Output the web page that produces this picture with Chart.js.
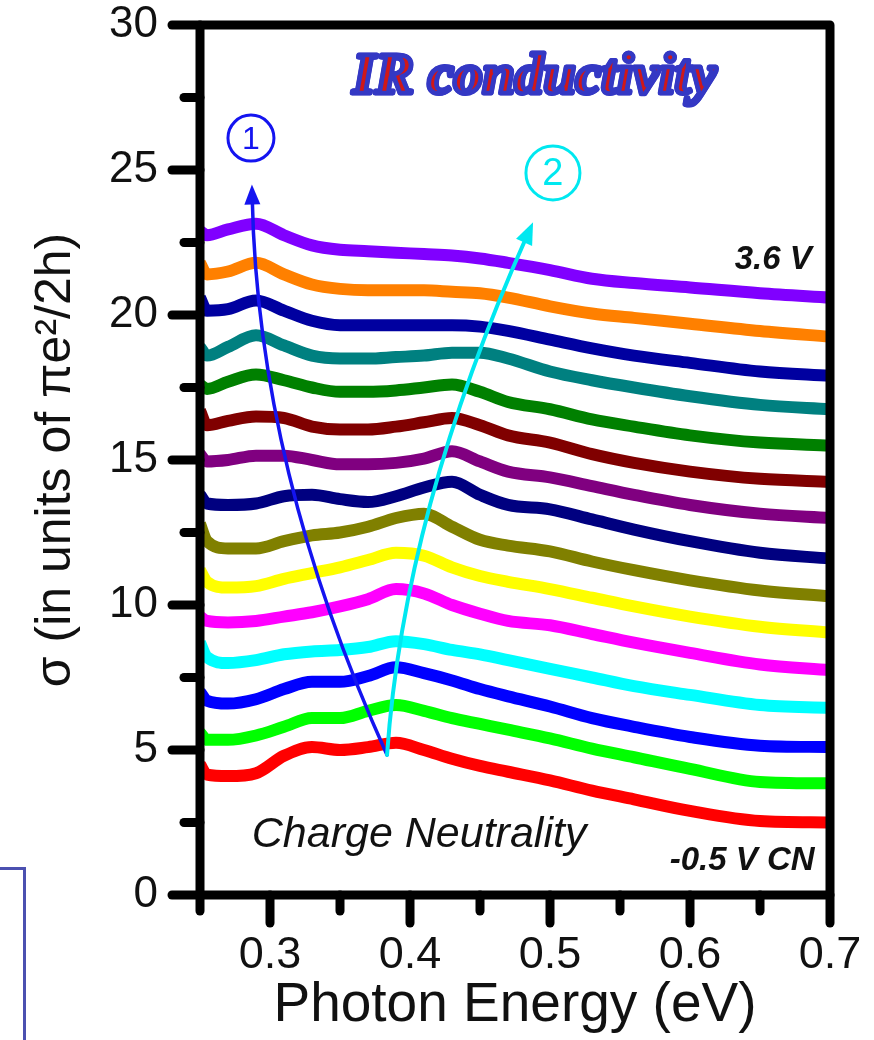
<!DOCTYPE html>
<html>
<head>
<meta charset="utf-8">
<title>IR conductivity</title>
<script src="https://cdn.jsdelivr.net/npm/chart.js@4.4.1/dist/chart.umd.min.js"></script>
<style>
  html, body { margin: 0; padding: 0; background: #fff; }
  #wrap { position: relative; width: 874px; height: 1040px; overflow: hidden; background: #fff; }
  #sigmaChart { position: absolute; left: 0; top: 0; }
  #slideEdge { position: absolute; left: -10px; top: 867px; width: 30px; height: 220px; border: 3px solid #4b50b0; }
</style>
</head>
<body>
<div id="wrap">
  <canvas id="sigmaChart" width="874" height="1040"></canvas>
  <div id="slideEdge"></div>
</div>
<script>
// photon energy grid (eV)
const energy = [0.25, 0.255, 0.27, 0.29, 0.31, 0.33, 0.35, 0.37, 0.39, 0.41, 0.43, 0.45, 0.47, 0.50, 0.53, 0.56, 0.60, 0.65, 0.70];

// sigma traces, bottom (-0.5 V, charge neutrality) to top (3.6 V)
const redTrace     = [4.5, 4.15, 4.1, 4.2, 4.8, 5.1, 5.0, 5.1, 5.25, 5.0, 4.7, 4.45, 4.25, 3.95, 3.6, 3.3, 2.9, 2.55, 2.5];
const limeTrace    = [5.6, 5.35, 5.35, 5.5, 5.8, 6.1, 6.1, 6.35, 6.55, 6.35, 6.1, 5.9, 5.7, 5.4, 5.05, 4.75, 4.35, 3.9, 3.85];
const blueTrace    = [7.0, 6.7, 6.6, 6.75, 7.1, 7.35, 7.35, 7.55, 7.85, 7.65, 7.4, 7.1, 6.85, 6.5, 6.1, 5.8, 5.45, 5.15, 5.1];
const cyanTrace    = [8.7, 8.2, 8.0, 8.1, 8.3, 8.4, 8.45, 8.55, 8.75, 8.65, 8.45, 8.3, 8.1, 7.8, 7.5, 7.2, 6.9, 6.55, 6.45];
const magentaTrace = [9.6, 9.45, 9.4, 9.45, 9.6, 9.75, 9.95, 10.2, 10.55, 10.4, 10.0, 9.7, 9.45, 9.3, 9.0, 8.7, 8.35, 7.95, 7.75];
const yellowTrace  = [11.2, 10.8, 10.6, 10.65, 10.9, 11.1, 11.3, 11.55, 11.8, 11.7, 11.3, 11.0, 10.8, 10.55, 10.25, 9.95, 9.6, 9.25, 9.05];
const oliveTrace   = [12.8, 12.2, 11.95, 11.95, 12.2, 12.4, 12.5, 12.7, 13.0, 13.15, 12.7, 12.25, 12.05, 11.85, 11.5, 11.2, 10.85, 10.5, 10.3];
const navyTrace    = [13.8, 13.5, 13.45, 13.5, 13.75, 13.8, 13.65, 13.55, 13.75, 14.05, 14.25, 13.8, 13.45, 13.3, 12.95, 12.6, 12.2, 11.8, 11.6];
const purpleTrace  = [15.2, 14.95, 15.0, 15.15, 15.15, 15.0, 14.85, 14.85, 14.9, 15.05, 15.3, 14.95, 14.6, 14.4, 14.1, 13.8, 13.45, 13.15, 13.0];
const maroonTrace  = [16.7, 16.2, 16.35, 16.5, 16.45, 16.15, 16.05, 16.05, 16.15, 16.3, 16.45, 16.2, 15.85, 15.6, 15.2, 14.9, 14.6, 14.35, 14.25];
const greenTrace   = [17.6, 17.45, 17.7, 17.95, 17.75, 17.5, 17.35, 17.35, 17.4, 17.5, 17.6, 17.35, 17.0, 16.75, 16.4, 16.15, 15.85, 15.6, 15.5];
const tealTrace    = [18.9, 18.6, 18.9, 19.3, 18.95, 18.6, 18.5, 18.5, 18.55, 18.6, 18.7, 18.7, 18.5, 18.05, 17.75, 17.5, 17.2, 16.9, 16.75];
const darkTrace    = [20.6, 20.15, 20.2, 20.5, 20.15, 19.8, 19.65, 19.65, 19.65, 19.65, 19.65, 19.6, 19.45, 19.15, 18.85, 18.6, 18.35, 18.05, 17.9];
const orangeTrace  = [21.8, 21.4, 21.5, 21.8, 21.4, 21.05, 20.9, 20.85, 20.85, 20.85, 20.8, 20.75, 20.6, 20.3, 20.05, 19.9, 19.7, 19.45, 19.25];
const violetTrace  = [22.9, 22.75, 22.95, 23.15, 22.75, 22.4, 22.25, 22.2, 22.15, 22.1, 22.05, 21.95, 21.8, 21.55, 21.25, 21.1, 20.95, 20.75, 20.6];

const xTicks = [0.3, 0.4, 0.5, 0.6, 0.7];
const yTicks = [0, 5, 10, 15, 20, 25, 30];

const traces = [
  { values: redTrace, color: '#ff0000' },
  { values: limeTrace, color: '#00ff00' },
  { values: blueTrace, color: '#0000ff' },
  { values: cyanTrace, color: '#00ffff' },
  { values: magentaTrace, color: '#ff00ff' },
  { values: yellowTrace, color: '#ffff00' },
  { values: oliveTrace, color: '#808000' },
  { values: navyTrace, color: '#000080' },
  { values: purpleTrace, color: '#800080' },
  { values: maroonTrace, color: '#800000' },
  { values: greenTrace, color: '#008000' },
  { values: tealTrace, color: '#008080' },
  { values: darkTrace, color: '#0000a0' },
  { values: orangeTrace, color: '#ff8000' },
  { values: violetTrace, color: '#8000ff' }
];

// guide arrows (quadratic: start, control, tip) in data units
const arrowOne = [[0.3836, 4.83], [0.2914, 14.66], [0.2871, 24.5]];
const arrowTwo = [[0.3836, 4.83], [0.3957, 13.24], [0.4879, 23.2]];

const axisFont = '"Liberation Sans", Arial, sans-serif';

function segment(ctx, x1, y1, x2, y2) {
  ctx.beginPath();
  ctx.moveTo(x1, y1);
  ctx.lineTo(x2, y2);
  ctx.stroke();
}

function drawArrow(ctx, x, y, pts, color, width, head) {
  const p = pts.map(([e, s]) => ({ x: x.getPixelForValue(e), y: y.getPixelForValue(s) }));
  const ang = Math.atan2(p[2].y - p[1].y, p[2].x - p[1].x);
  ctx.strokeStyle = color;
  ctx.fillStyle = color;
  ctx.lineWidth = width;
  ctx.lineCap = 'round';
  ctx.beginPath();
  ctx.moveTo(p[0].x, p[0].y);
  ctx.quadraticCurveTo(p[1].x, p[1].y, p[2].x - Math.cos(ang) * head * 0.7, p[2].y - Math.sin(ang) * head * 0.7);
  ctx.stroke();
  const w = head * 0.4;
  ctx.beginPath();
  ctx.moveTo(p[2].x, p[2].y);
  ctx.lineTo(p[2].x - Math.cos(ang) * head - Math.sin(ang) * w, p[2].y - Math.sin(ang) * head + Math.cos(ang) * w);
  ctx.lineTo(p[2].x - Math.cos(ang) * head + Math.sin(ang) * w, p[2].y - Math.sin(ang) * head - Math.cos(ang) * w);
  ctx.closePath();
  ctx.fill();
}

function circledDigit(ctx, cx, cy, r, digit, color) {
  ctx.strokeStyle = color;
  ctx.fillStyle = color;
  ctx.lineWidth = 3;
  ctx.beginPath();
  ctx.arc(cx, cy, r, 0, Math.PI * 2);
  ctx.stroke();
  ctx.font = (r * 1.4).toFixed(0) + 'px ' + axisFont;
  ctx.textAlign = 'center';
  ctx.textBaseline = 'middle';
  ctx.fillText(digit, cx, cy + 2);
}

// keep the plot box where the layout padding puts it
function fixBox(size) {
  return s => {
    if (s.isHorizontal()) s.height = size; else s.width = size;
    s.paddingTop = 0;
    s.paddingBottom = 0;
    s.paddingLeft = 0;
    s.paddingRight = 0;
  };
}

const frameAndNotes = {
  id: 'frameAndNotes',
  afterDatasetsDraw(chart) {
    const { ctx, chartArea: a, scales: { x, y } } = chart;
    ctx.save();

    // annotations inside the plot
    drawArrow(ctx, x, y, arrowOne, '#1414f0', 3.5, 20);
    drawArrow(ctx, x, y, arrowTwo, '#00e8f0', 4, 22);
    circledDigit(ctx, x.getPixelForValue(0.2864), y.getPixelForValue(26.1), 23, '1', '#1414f0');
    circledDigit(ctx, x.getPixelForValue(0.5021), y.getPixelForValue(24.9), 27, '2', '#00e8f0');

    ctx.fillStyle = '#111';
    ctx.textBaseline = 'alphabetic';
    ctx.font = 'italic bold 33px ' + axisFont;
    ctx.textAlign = 'right';
    ctx.fillText('3.6 V', x.getPixelForValue(0.687), y.getPixelForValue(21.6));
    ctx.fillText('-0.5 V CN', x.getPixelForValue(0.689), y.getPixelForValue(0.86));
    ctx.font = 'italic 43px ' + axisFont;
    ctx.textAlign = 'left';
    ctx.fillText('Charge Neutrality', x.getPixelForValue(0.287), y.getPixelForValue(1.65));

    // heading: heavy blue letters with a thin red core
    const title = 'IR conductivity';
    ctx.font = 'italic bold 50px "Liberation Serif", serif';
    const size = 50 * 364 / ctx.measureText(title).width;
    ctx.font = 'italic bold ' + size.toFixed(1) + 'px "Liberation Serif", serif';
    ctx.textAlign = 'center';
    const tx = x.getPixelForValue(0.489), ty = y.getPixelForValue(27.65);
    ctx.lineJoin = 'round';
    ctx.lineWidth = 5;
    ctx.strokeStyle = '#3438c4';
    ctx.strokeText(title, tx, ty);
    ctx.fillStyle = '#d01818';
    ctx.fillText(title, tx, ty);
    ctx.lineWidth = 4.5;
    ctx.strokeText(title, tx, ty);

    // tick marks, major and minor
    ctx.strokeStyle = '#000';
    ctx.lineWidth = 9;
    ctx.lineCap = 'round';
    const yStep = yTicks[1] - yTicks[0];
    for (let v = y.min; v <= y.max + 1e-9; v += yStep / 2) {
      const py = y.getPixelForValue(v);
      const major = Math.abs(v / yStep - Math.round(v / yStep)) < 1e-6;
      segment(ctx, a.left - (major ? 28 : 16), py, a.left, py);
    }
    const xStep = xTicks[1] - xTicks[0];
    for (let v = x.min; v <= x.max + 1e-9; v += xStep / 2) {
      const px = x.getPixelForValue(v);
      const major = Math.abs(v / xStep - Math.round(v / xStep)) < 1e-6;
      segment(ctx, px, a.bottom, px, a.bottom + (major ? 28 : 16));
    }

    // heavy frame
    ctx.lineCap = 'butt';
    ctx.lineWidth = 9;
    ctx.strokeRect(a.left, a.top, a.right - a.left, a.bottom - a.top);
    ctx.restore();
  }
};

const ctx = document.getElementById('sigmaChart').getContext('2d');
const sigmaChart = new Chart(ctx, {
  type: 'line',
  data: {
    datasets: traces.map(t => ({
      data: energy.map((e, i) => ({ x: e, y: t.values[i] })),
      borderColor: t.color,
      backgroundColor: t.color,
      borderWidth: 12,
      pointRadius: 0,
      cubicInterpolationMode: 'monotone',
      borderJoinStyle: 'round',
      fill: false
    }))
  },
  options: {
    responsive: false,
    animation: false,
    events: [],
    layout: { padding: { left: 0, right: 44, top: 25, bottom: 0 } },
    plugins: {
      legend: { display: false },
      tooltip: { enabled: false }
    },
    scales: {
      x: {
        type: 'linear',
        min: 0.25,
        max: 0.7,
        afterFit: fixBox(145),
        afterBuildTicks: s => { s.ticks = xTicks.map(v => ({ value: v })); },
        grid: { display: false, drawTicks: false },
        border: { display: false },
        ticks: {
          autoSkip: false,
          maxRotation: 0,
          padding: 38,
          color: '#111',
          font: { family: axisFont, size: 45, lineHeight: 1 },
          callback: v => v.toFixed(1)
        },
        title: {
          display: true,
          text: 'Photon Energy (eV)',
          color: '#111',
          font: { family: axisFont, size: 55, lineHeight: 1.2 },
          padding: { top: 0, bottom: 1 }
        }
      },
      y: {
        type: 'linear',
        min: 0,
        max: 30,
        afterFit: fixBox(200),
        afterBuildTicks: s => { s.ticks = yTicks.map(v => ({ value: v })); },
        grid: { display: false, drawTicks: false },
        border: { display: false },
        ticks: {
          autoSkip: false,
          padding: 42,
          color: '#111',
          font: { family: axisFont, size: 44, lineHeight: 1 }
        },
        title: {
          display: true,
          text: 'σ (in units of πe²/2h)',
          color: '#111',
          font: { family: axisFont, size: 50, lineHeight: 1.2 },
          padding: { top: 26, bottom: 0 }
        }
      }
    }
  },
  plugins: [frameAndNotes]
});
</script>
</body>
</html>
